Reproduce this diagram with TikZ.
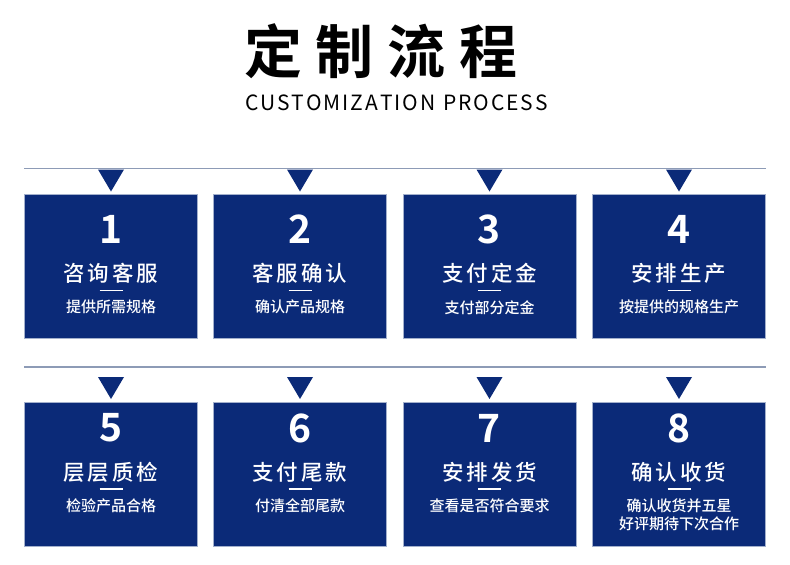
\documentclass[tikz,border=0pt]{standalone}
\usepackage{fontspec}
\newfontfamily\cjk{Noto Sans CJK SC}
\newfontfamily\cjkb{Noto Sans CJK SC Bold}
\newfontfamily\cjkm{Noto Sans CJK SC Medium}
\definecolor{navy}{HTML}{0B2A78}
\definecolor{rule}{HTML}{8D9BB6}
\definecolor{edge}{HTML}{A3B0CC}
\newcommand{\lk}{\kern1.9pt}
\tikzset{
  stepbox/.style={fill=navy,draw=edge,line width=0.8pt},
  tri/.style={fill=navy,draw=none},
  ruleline/.style={draw=rule,line width=1.8pt},
  numtxt/.style={text=white,font=\cjkb\fontsize{39}{40}\selectfont,inner sep=0pt},
  maintxt/.style={text=white,font=\cjkm\fontsize{21.5}{24}\selectfont,inner sep=0pt},
  subtxt/.style={text=white,font=\cjkm\fontsize{15}{18.5}\selectfont,inner sep=0pt,align=center},
  dashline/.style={draw=white,line width=1.6pt}
}
\newcommand{\stepcell}[7]{%
  \path[stepbox] (#2,#3) rectangle ++(173,144);
  \node[numtxt] (#1n) at (#2+86.5,#3+#7) {#4};
  \node[maintxt] (#1m) at (#2+86.5,#3+#7+44) {#5};
  \coordinate (#1dl) at (#2+75,#3+#7+61);
  \coordinate (#1dr) at (#2+98,#3+#7+61);
  \draw[dashline] (#1dl) -- (#1dr);
  \node[subtxt,anchor=north] (#1s) at (#2+86.5,#3+#7+70.5) {#6};
  \coordinate (#1t1) at (#2+73.5,#3-25);
  \coordinate (#1t2) at (#2+99.5,#3-25);
  \coordinate (#1t3) at (#2+86.5,#3-3);
  \path[tri] (#1t1) -- (#1t2) -- (#1t3) -- cycle;
}
\begin{document}
\begin{tikzpicture}[x=1pt,y=-1pt]
\useasboundingbox[fill=white] (0,0) rectangle (790,565);
\node[font=\cjkb\fontsize{58}{60}\selectfont,inner sep=0pt] (title) at (381,51) {定\hspace{14pt}制\hspace{14pt}流\hspace{14pt}程};
\node[font=\cjk\fontsize{21}{24}\selectfont,inner sep=0pt] (sub) at (396.5,103) {C\lk U\lk S\lk T\lk O\lk M\lk I\lk Z\lk A\lk T\lk I\lk O\lk N\ \,P\lk R\lk O\lk C\lk E\lk S\lk S};
\coordinate (r1a) at (24,168.5);
\coordinate (r1b) at (766,168.5);
\draw[ruleline] (r1a) -- (r1b);
\coordinate (r2a) at (24,367);
\coordinate (r2b) at (766,367);
\draw[ruleline] (r2a) -- (r2b);
\stepcell{a}{24.5}{194.5}{1}{咨\hspace{3pt}询\hspace{3pt}客\hspace{3pt}服}{提供所需规格}{35}
\stepcell{b}{213.5}{194.5}{2}{客\hspace{3pt}服\hspace{3pt}确\hspace{3pt}认}{确认产品规格}{35}
\stepcell{c}{403}{194.5}{3}{支\hspace{3pt}付\hspace{3pt}定\hspace{3pt}金}{支付部分定金}{35}
\stepcell{d}{592.5}{194.5}{4}{安\hspace{3pt}排\hspace{3pt}生\hspace{3pt}产}{按提供的规格生产}{35}
\stepcell{e}{24.5}{402}{5}{层\hspace{3pt}层\hspace{3pt}质\hspace{3pt}检}{检验产品合格}{26}
\stepcell{f}{213.5}{402}{6}{支\hspace{3pt}付\hspace{3pt}尾\hspace{3pt}款}{付清全部尾款}{26}
\stepcell{g}{403}{402}{7}{安\hspace{3pt}排\hspace{3pt}发\hspace{3pt}货}{查看是否符合要求}{26}
\stepcell{h}{592.5}{402}{8}{确\hspace{3pt}认\hspace{3pt}收\hspace{3pt}货}{确认收货并五星\\[0pt]好评期待下次合作}{26}
\end{tikzpicture}
\end{document}
